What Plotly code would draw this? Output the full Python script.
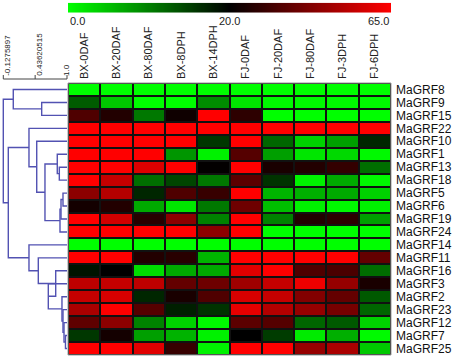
import numpy as np
import plotly.graph_objects as go

# ---------------- data ----------------
genes = ["MaGRF8", "MaGRF9", "MaGRF15", "MaGRF22", "MaGRF10", "MaGRF1", "MaGRF13",
         "MaGRF18", "MaGRF5", "MaGRF6", "MaGRF19", "MaGRF24", "MaGRF14", "MaGRF11",
         "MaGRF16", "MaGRF3", "MaGRF2", "MaGRF23", "MaGRF12", "MaGRF7", "MaGRF25"]
samples = ["BX-0DAF", "BX-20DAF", "BX-80DAF", "BX-8DPH", "BX-14DPH",
           "FJ-0DAF", "FJ-20DAF", "FJ-80DAF", "FJ-3DPH", "FJ-6DPH"]

bx_0daf  = [0, 12.9, 34, 65, 65, 65, 65, 65, 44.7, 23.5, 65, 65, 0, 65, 18.4, 53.5, 55, 50, 36.8, 15.7, 65]
bx_20daf = [0, 4.3, 26, 65, 65, 65, 65, 55, 51.8, 26, 57, 65, 0, 65, 20, 55, 58, 65, 44.7, 23.5, 65]
bx_80daf = [0, 0, 10.6, 65, 65, 65, 59, 11.4, 17, 6.7, 27, 65, 0, 26, 2.7, 53.5, 17, 35, 9.8, 7.5, 59.7]
bx_8dph  = [0, 0, 22.6, 65, 65, 8.2, 65, 14.5, 34, 2, 44.7, 65, 0, 27, 6.7, 37.6, 24.4, 17.6, 3.5, 6, 29.7]
bx_14dph = [0, 9, 65, 65, 15.7, 1, 20.5, 10.6, 29.7, 10.6, 9.8, 44.7, 0, 5.9, 6.7, 39.4, 34, 16, 0.5, 1, 1]
fj_0daf  = [0, 2, 28, 65, 65, 35, 65, 36, 65, 39.4, 65, 65, 0, 65, 59.7, 48, 58, 60.6, 36, 20, 65]
fj_20daf = [0, 0.5, 0, 65, 12, 7.5, 24.4, 16, 5.9, 5, 9.8, 0, 0, 65, 65, 55, 55, 51.8, 35, 15.3, 65]
fj_80daf = [0, 0.5, 0, 65, 3.5, 2, 26, 1, 6.3, 1, 26, 0, 0, 65, 34, 62, 43, 46.5, 12, 1.6, 46.5]
fj_3dph  = [0, 0.5, 0, 65, 7.5, 3, 29, 6.7, 6.7, 0.5, 28, 0, 0, 65, 33, 46.5, 37.6, 41, 13, 6.3, 50]
fj_6dph  = [0, 0.5, 0, 65, 17, 0.5, 11.4, 0.5, 3.5, 1, 7.5, 0, 0, 37.6, 11.4, 24.4, 13, 12, 3.5, 0.4, 4.3]

colorbar_ticks = [0.0, 20.0, 65.0]
colorbar_ticktext = ["0.0", "20.0", "65.0"]

# dendrogram merges (scipy style): leaves 0..20, merge k creates node 21+k
# (left, right, similarity height)
merges = [
    (1, 2, 0.552),      # 21
    (0, 21, 0.049),     # 22
    (6, 7, 0.864),      # 23
    (5, 23, 0.828),     # 24
    (8, 9, 0.929),      # 25
    (25, 10, 0.894),    # 26
    (26, 11, 0.876),    # 27
    (24, 27, 0.610),    # 28
    (4, 28, 0.464),     # 29
    (3, 29, 0.327),     # 30
    (19, 20, 0.973),    # 31
    (18, 31, 0.947),    # 32
    (17, 32, 0.929),    # 33
    (16, 33, 0.911),    # 34
    (15, 34, 0.669),    # 35
    (14, 35, 0.800),    # 36
    (13, 36, 0.492),    # 37
    (12, 37, 0.327),    # 38
    (30, 38, -0.039),   # 39
    (22, 39, -0.1275897),  # 40
]
scale_ticks = [-0.1275897, 0.43620515, 1.0]
scale_ticktext = ["-0.1275897", "0.43620515", "1.0"]

# ---------------- layout constants ----------------
W, H = 459, 357
FONT = "Liberation Sans, Arial, sans-serif"
hx0, hx1 = 68 / W, 391 / W
hy0, hy1 = (H - 355) / H, (H - 83) / H
zmax = colorbar_ticks[-1]
mid = colorbar_ticks[1] / zmax
GREEN, BLACK, RED = "rgb(0,255,0)", "rgb(0,0,0)", "rgb(255,0,0)"
LINE = "rgb(82,82,178)"

z = np.array([bx_0daf, bx_20daf, bx_80daf, bx_8dph, bx_14dph,
              fj_0daf, fj_20daf, fj_80daf, fj_3dph, fj_6dph]).T

fig = go.Figure()
fig.add_trace(go.Heatmap(
    z=z, x=list(range(len(samples))), y=list(range(len(genes))),
    colorscale=[[0, GREEN], [mid, BLACK], [1, RED]], zmin=0, zmax=zmax,
    showscale=False, xgap=2, ygap=2, xaxis="x", yaxis="y",
    hovertemplate="%{customdata}<extra></extra>",
    customdata=[[f"{g} {s}" for s in samples] for g in genes],
))

# dendrogram segments
n = len(genes)
pos = {i: (1.0, float(i)) for i in range(n)}
dx, dy = [], []
for k, (a, b, h) in enumerate(merges):
    xa, ya = pos[a]
    xb, yb = pos[b]
    dx += [xa, h, h, xb, None]
    dy += [ya, ya, yb, yb, None]
    pos[n + k] = (h, (ya + yb) / 2)
fig.add_trace(go.Scatter(x=dx, y=dy, mode="lines", line=dict(color=LINE, width=1.4),
                         xaxis="x2", yaxis="y", hoverinfo="skip", showlegend=False))

# colour gradient bar
grad = np.linspace(0, 1, 300)
fig.add_trace(go.Heatmap(z=[grad], x=grad, y=[0], colorscale=[[0, GREEN], [0.5, BLACK], [1, RED]],
                         zmin=0, zmax=1, showscale=False, xaxis="x3", yaxis="y3", hoverinfo="skip"))

def bar_pos(v):
    c = colorbar_ticks
    return 0.5 * v / c[1] if v <= c[1] else 0.5 + 0.5 * (v - c[1]) / (c[2] - c[1])

anns = []
for v, t, anc in zip(colorbar_ticks, colorbar_ticktext, ["left", "center", "right"]):
    anns.append(dict(x=bar_pos(v), y=(H - 21) / H, xref="x3", yref="paper", text=t, showarrow=False,
                     xanchor=anc, yanchor="middle", font=dict(size=11, color="#222", family=FONT)))

# dendrogram scale bracket
ybr = (H - 79) / H
ytk = (H - 75) / H
shapes = [dict(type="line", xref="x2", yref="paper", x0=scale_ticks[0], x1=scale_ticks[-1],
               y0=ybr, y1=ybr, line=dict(color="#444", width=1))]
for v, t in zip(scale_ticks, scale_ticktext):
    shapes.append(dict(type="line", xref="x2", yref="paper", x0=v, x1=v, y0=ybr, y1=ytk,
                       line=dict(color="#444", width=1)))
    anns.append(dict(x=v, y=(H - 78) / H, xref="x2", yref="paper", text=t, textangle=-90,
                     showarrow=False, xanchor="center", yanchor="bottom", xshift=4 if v < 1 else -1,
                     font=dict(size=8, color="#222", family=FONT)))

# dark background behind the heatmap (cell borders)
shapes.append(dict(type="rect", xref="x domain", yref="y domain", x0=0, x1=1, y0=0, y1=1,
                   fillcolor="#111", line=dict(color="#999", width=1), layer="below"))

px_per_unit = (67 - 3.3) / (scale_ticks[-1] - scale_ticks[0])
d_lo = scale_ticks[0] - 3.3 / px_per_unit
d_hi = d_lo + 68 / px_per_unit

fig.update_layout(
    width=W, height=H, margin=dict(l=0, r=0, t=0, b=0),
    paper_bgcolor="white", plot_bgcolor="white",
    font=dict(family=FONT, color="#111"),
    xaxis=dict(domain=[hx0, hx1], range=[-0.5, len(samples) - 0.5], side="top", anchor="y",
               tickvals=list(range(len(samples))), ticktext=samples, tickangle=-90,
               tickfont=dict(size=11, color="#222"), ticks="", showgrid=False, zeroline=False,
               ticklabelstandoff=3),
    yaxis=dict(domain=[hy0, hy1], range=[len(genes) - 0.5, -0.5], side="right", anchor="x",
               tickvals=list(range(len(genes))), ticktext=genes,
               tickfont=dict(size=12, color="#111"), ticks="", showgrid=False, zeroline=False,
               ticklabelstandoff=4),
    xaxis2=dict(domain=[0, hx0], range=[d_lo, d_hi], anchor="y", visible=False),
    xaxis3=dict(domain=[hx0, hx1], range=[0, 1], anchor="y3", visible=False),
    yaxis3=dict(domain=[(H - 12.7) / H, (H - 2.7) / H], range=[-0.5, 0.5], anchor="x3", visible=False),
    shapes=shapes, annotations=anns, showlegend=False,
)

fig.write_html("out.html", config={"displayModeBar": False},
               post_script="document.body.style.margin='0';document.body.style.overflow='hidden';")
